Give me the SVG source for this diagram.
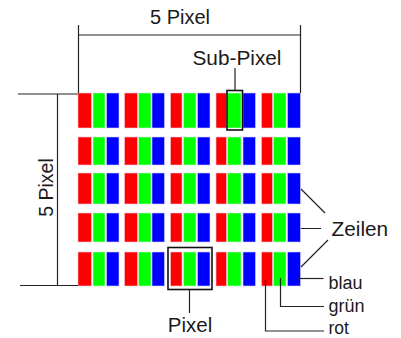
<svg xmlns="http://www.w3.org/2000/svg" width="401" height="338" viewBox="0 0 401 338">
<style>
.r{fill:#ff0000;stroke:#f4c8e0;stroke-width:0.6}
.g{fill:#00ff00;stroke:#d8f0e0;stroke-width:0.6}
.b{fill:#0000ff;stroke:#d0d0f8;stroke-width:0.6}
.ln{stroke:#222;stroke-width:1.2;fill:none}
.bx{stroke:#111;stroke-width:1.6;fill:none}
text{font-family:"Liberation Sans",Arial,sans-serif;fill:#1a1a1a}
</style>
<rect width="401" height="338" fill="#ffffff"/>
<g id="grid">
<g id="row1">
<rect class="r" x="78" y="93" width="13.5" height="35"/><rect class="g" x="93" y="93" width="12" height="35"/><rect class="b" x="106.5" y="93" width="12.5" height="35"/>
<rect class="r" x="124.5" y="93" width="13" height="35"/><rect class="g" x="138.5" y="93" width="12.5" height="35"/><rect class="b" x="152" y="93" width="12.5" height="35"/>
<rect class="r" x="170.5" y="93" width="11.5" height="35"/><rect class="g" x="183.5" y="93" width="12.5" height="35"/><rect class="b" x="197.5" y="93" width="12.5" height="35"/>
<rect class="r" x="216" y="93" width="10.5" height="35"/><rect class="g" x="227.5" y="93" width="13.5" height="35"/><rect class="b" x="243" y="93" width="12.5" height="35"/>
<rect class="r" x="261.5" y="93" width="11" height="35"/><rect class="g" x="273.5" y="93" width="12.5" height="35"/><rect class="b" x="287.5" y="93" width="13" height="35"/>
</g>
<g id="row2">
<rect class="r" x="78" y="137" width="13.5" height="28"/><rect class="g" x="93" y="137" width="12" height="28"/><rect class="b" x="106.5" y="137" width="12.5" height="28"/>
<rect class="r" x="124.5" y="137" width="13" height="28"/><rect class="g" x="138.5" y="137" width="12.5" height="28"/><rect class="b" x="152" y="137" width="12.5" height="28"/>
<rect class="r" x="170.5" y="137" width="11.5" height="28"/><rect class="g" x="183.5" y="137" width="12.5" height="28"/><rect class="b" x="197.5" y="137" width="12.5" height="28"/>
<rect class="r" x="216" y="137" width="10.5" height="28"/><rect class="g" x="227.5" y="137" width="13.5" height="28"/><rect class="b" x="243" y="137" width="12.5" height="28"/>
<rect class="r" x="261.5" y="137" width="11" height="28"/><rect class="g" x="273.5" y="137" width="12.5" height="28"/><rect class="b" x="287.5" y="137" width="13" height="28"/>
</g>
<g id="row3">
<rect class="r" x="78" y="173" width="13.5" height="31"/><rect class="g" x="93" y="173" width="12" height="31"/><rect class="b" x="106.5" y="173" width="12.5" height="31"/>
<rect class="r" x="124.5" y="173" width="13" height="31"/><rect class="g" x="138.5" y="173" width="12.5" height="31"/><rect class="b" x="152" y="173" width="12.5" height="31"/>
<rect class="r" x="170.5" y="173" width="11.5" height="31"/><rect class="g" x="183.5" y="173" width="12.5" height="31"/><rect class="b" x="197.5" y="173" width="12.5" height="31"/>
<rect class="r" x="216" y="173" width="10.5" height="31"/><rect class="g" x="227.5" y="173" width="13.5" height="31"/><rect class="b" x="243" y="173" width="12.5" height="31"/>
<rect class="r" x="261.5" y="173" width="11" height="31"/><rect class="g" x="273.5" y="173" width="12.5" height="31"/><rect class="b" x="287.5" y="173" width="13" height="31"/>
</g>
<g id="row4">
<rect class="r" x="78" y="213" width="13.5" height="29"/><rect class="g" x="93" y="213" width="12" height="29"/><rect class="b" x="106.5" y="213" width="12.5" height="29"/>
<rect class="r" x="124.5" y="213" width="13" height="29"/><rect class="g" x="138.5" y="213" width="12.5" height="29"/><rect class="b" x="152" y="213" width="12.5" height="29"/>
<rect class="r" x="170.5" y="213" width="11.5" height="29"/><rect class="g" x="183.5" y="213" width="12.5" height="29"/><rect class="b" x="197.5" y="213" width="12.5" height="29"/>
<rect class="r" x="216" y="213" width="10.5" height="29"/><rect class="g" x="227.5" y="213" width="13.5" height="29"/><rect class="b" x="243" y="213" width="12.5" height="29"/>
<rect class="r" x="261.5" y="213" width="11" height="29"/><rect class="g" x="273.5" y="213" width="12.5" height="29"/><rect class="b" x="287.5" y="213" width="13" height="29"/>
</g>
<g id="row5">
<rect class="r" x="78" y="252" width="13.5" height="34"/><rect class="g" x="93" y="252" width="12" height="34"/><rect class="b" x="106.5" y="252" width="12.5" height="34"/>
<rect class="r" x="124.5" y="252" width="13" height="34"/><rect class="g" x="138.5" y="252" width="12.5" height="34"/><rect class="b" x="152" y="252" width="12.5" height="34"/>
<rect class="r" x="170.5" y="252" width="11.5" height="34"/><rect class="g" x="183.5" y="252" width="12.5" height="34"/><rect class="b" x="197.5" y="252" width="12.5" height="34"/>
<rect class="r" x="216" y="252" width="10.5" height="34"/><rect class="g" x="227.5" y="252" width="13.5" height="34"/><rect class="b" x="243" y="252" width="12.5" height="34"/>
<rect class="r" x="261.5" y="252" width="11" height="34"/><rect class="g" x="273.5" y="252" width="12.5" height="34"/><rect class="b" x="287.5" y="252" width="13" height="34"/>
</g>
</g>
<g id="subpixel-box"><rect class="bx" x="227" y="90.5" width="15.5" height="39.5"/></g>
<g id="pixel-box"><rect class="bx" x="168" y="247.5" width="44" height="42"/></g>
<g id="connectors">
<path class="ln" d="M78.5,25V93M300.5,25V93M78.5,35H300.5"/>
<path class="ln" d="M18,94H78M20,285.5H78M57.5,94V285.5"/>
<path class="ln" d="M235,68V90.5"/>
<path class="ln" d="M189.5,289.5V313"/>
<path class="ln" d="M301,189L325,213M301,228.5H321M301,267L328,240"/>
<path class="ln" d="M297,278.5H323.5"/>
<path class="ln" d="M280.5,278V306.5H324"/>
<path class="ln" d="M265.5,280V331H324"/>
</g>
<g id="labels">
<text x="180" y="24" font-size="20" text-anchor="middle">5 Pixel</text>
<text x="237" y="65" font-size="20.8" text-anchor="middle">Sub-Pixel</text>
<text transform="translate(53,187.5) rotate(-90)" font-size="19.5" text-anchor="middle">5 Pixel</text>
<text x="190" y="331.5" font-size="20.5" text-anchor="middle">Pixel</text>
<text x="331.5" y="236" font-size="20.8">Zeilen</text>
<text x="328.5" y="288.5" font-size="18">blau</text>
<text x="328.5" y="312" font-size="18">grün</text>
<text x="328.5" y="334" font-size="17.5">rot</text>
</g>
</svg>
